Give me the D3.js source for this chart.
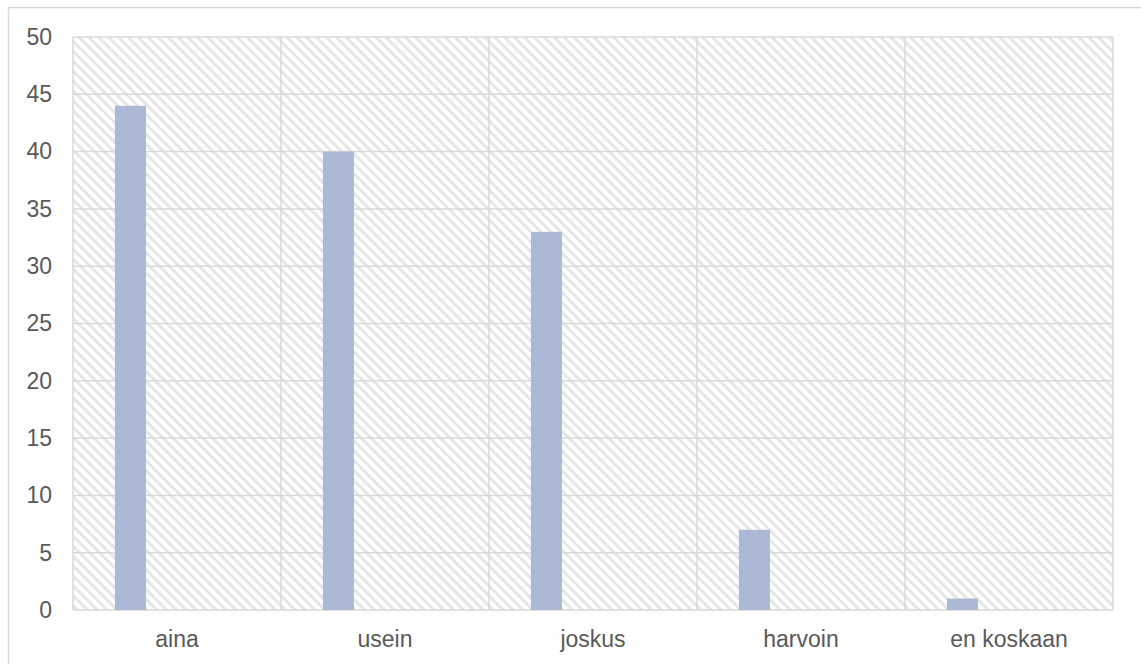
<!DOCTYPE html>
<html>
<head>
<meta charset="utf-8">
<script src="https://cdn.jsdelivr.net/npm/d3@7"></script>
<style>
  body { margin: 0; background: #fff; }
  svg { display: block; }
</style>
</head>
<body>
<svg width="1141" height="664"></svg>
<script>
// answers per category (only the first series carries values)
const categories = ["aina", "usein", "joskus", "harvoin", "en koskaan"];
const seriesNames = ["s1", "s2", "s3", "s4"];
const values1 = [44, 40, 33, 7, 1];
const values2 = [0, 0, 0, 0, 0];
const values3 = [0, 0, 0, 0, 0];
const values4 = [0, 0, 0, 0, 0];
const yTicks = [0, 5, 10, 15, 20, 25, 30, 35, 40, 45, 50];

const allSeries = [values1, values2, values3, values4];

const width = 1141, height = 664;
const margin = { left: 73, right: 28, top: 37, bottom: 54 };

const svg = d3.select("svg");

// outer chart border
svg.append("rect")
  .attr("x", 8.5).attr("y", 7.5)
  .attr("width", width + 10).attr("height", height + 10)
  .attr("fill", "#fff")
  .attr("stroke", "#d9d9d9")
  .attr("stroke-width", 1.5);

// diagonal hatch for the plot area
const defs = svg.append("defs");
const pat = defs.append("pattern")
  .attr("id", "hatch")
  .attr("patternUnits", "userSpaceOnUse")
  .attr("width", 7).attr("height", 7)
  .attr("patternTransform", "rotate(-45)");
pat.append("rect").attr("width", 7).attr("height", 7).attr("fill", "#fff");
pat.append("rect").attr("width", 3).attr("height", 7).attr("fill", "#e6e6e6");

const x = d3.scaleBand()
  .domain(categories)
  .range([margin.left, width - margin.right])
  .paddingInner(0)
  .paddingOuter(0);

const xs = d3.scaleBand()
  .domain(seriesNames)
  .range([0, x.bandwidth()])
  .paddingOuter(1.35)
  .paddingInner(0);

const y = d3.scaleLinear()
  .domain([0, 50])
  .range([height - margin.bottom, margin.top]);

svg.append("rect")
  .attr("x", margin.left).attr("y", margin.top)
  .attr("width", width - margin.left - margin.right)
  .attr("height", y(0) - margin.top)
  .attr("fill", "url(#hatch)");

// horizontal grid
svg.append("g")
  .selectAll("line")
  .data(yTicks)
  .join("line")
  .attr("x1", margin.left).attr("x2", width - margin.right)
  .attr("y1", d => y(d)).attr("y2", d => y(d))
  .attr("stroke", "#d9d9d9")
  .attr("stroke-width", 1.5);

// vertical grid at category edges
const edges = categories.map(c => x(c)).concat([width - margin.right]);
svg.append("g")
  .selectAll("line")
  .data(edges)
  .join("line")
  .attr("x1", d => d).attr("x2", d => d)
  .attr("y1", margin.top).attr("y2", y(0))
  .attr("stroke", "#d9d9d9")
  .attr("stroke-width", 1.5);

// bars
allSeries.forEach((vals, si) => {
  svg.append("g")
    .selectAll("rect")
    .data(vals.map((v, i) => ({ c: categories[i], v })))
    .join("rect")
    .attr("x", d => x(d.c) + xs(seriesNames[si]))
    .attr("width", xs.bandwidth())
    .attr("y", d => y(d.v))
    .attr("height", d => y(0) - y(d.v))
    .attr("fill", "#abb9d6");
});

const font = "Liberation Sans, Arial, sans-serif";

// y axis labels
const gy = svg.append("g")
  .attr("transform", `translate(${margin.left},0)`)
  .call(d3.axisLeft(y).tickValues(yTicks).tickSize(0).tickPadding(21));
gy.select(".domain").remove();
gy.selectAll("text")
  .attr("font-family", font)
  .attr("font-size", 23)
  .attr("fill", "#595959");

// x axis labels
const gx = svg.append("g")
  .attr("transform", `translate(0,${y(0)})`)
  .call(d3.axisBottom(x).tickSize(0).tickPadding(21));
gx.select(".domain").remove();
gx.selectAll("text")
  .attr("font-family", font)
  .attr("font-size", 23)
  .attr("fill", "#595959");
</script>
</body>
</html>
